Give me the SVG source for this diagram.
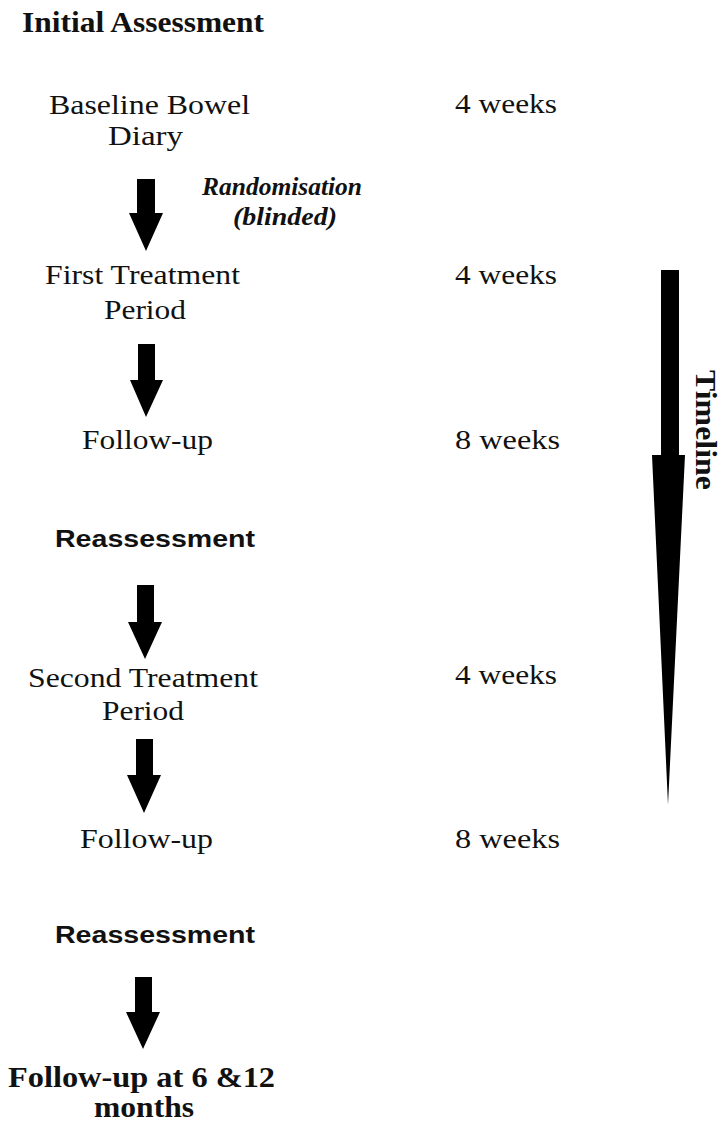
<svg xmlns="http://www.w3.org/2000/svg" width="723" height="1124" viewBox="0 0 723 1124">
<style>
.s{font-family:"Liberation Serif","Times New Roman",serif;font-size:28px;fill:#111}
.b{font-family:"Liberation Serif","Times New Roman",serif;font-size:29px;font-weight:bold;fill:#111}
.bi{font-family:"Liberation Serif","Times New Roman",serif;font-size:25px;font-weight:bold;font-style:italic;fill:#111}
.h{font-family:"Liberation Sans",Arial,sans-serif;font-size:23px;font-weight:bold;fill:#111}
.arr{fill:#000}
</style>
<rect width="723" height="1124" fill="#fff"/>
<g id="initial-assessment"><text class="b" x="22" y="32" textLength="242" lengthAdjust="spacingAndGlyphs">Initial Assessment</text></g>
<g id="baseline">
<text class="s" x="49" y="114" textLength="201" lengthAdjust="spacingAndGlyphs">Baseline Bowel</text>
<text class="s" x="108" y="145" textLength="75" lengthAdjust="spacingAndGlyphs">Diary</text>
</g>
<g id="dur1"><text class="s" x="455" y="113" textLength="102" lengthAdjust="spacingAndGlyphs">4 weeks</text></g>
<g id="randomisation">
<text class="bi" x="202" y="195" textLength="160" lengthAdjust="spacingAndGlyphs">Randomisation</text>
<text class="bi" x="233" y="225" textLength="104" lengthAdjust="spacingAndGlyphs">(blinded)</text>
</g>
<g id="first-treatment">
<text class="s" x="45" y="284" textLength="195" lengthAdjust="spacingAndGlyphs">First Treatment</text>
<text class="s" x="104" y="319" textLength="82" lengthAdjust="spacingAndGlyphs">Period</text>
</g>
<g id="dur2"><text class="s" x="455" y="284" textLength="102" lengthAdjust="spacingAndGlyphs">4 weeks</text></g>
<g id="followup1"><text class="s" x="82" y="449" textLength="131" lengthAdjust="spacingAndGlyphs">Follow-up</text></g>
<g id="dur3"><text class="s" x="455" y="449" textLength="105" lengthAdjust="spacingAndGlyphs">8 weeks</text></g>
<g id="reassessment1"><text class="h" x="55" y="547" textLength="200" lengthAdjust="spacingAndGlyphs">Reassessment</text></g>
<g id="second-treatment">
<text class="s" x="28" y="687" textLength="230" lengthAdjust="spacingAndGlyphs">Second Treatment</text>
<text class="s" x="102" y="720" textLength="82" lengthAdjust="spacingAndGlyphs">Period</text>
</g>
<g id="dur4"><text class="s" x="455" y="684" textLength="102" lengthAdjust="spacingAndGlyphs">4 weeks</text></g>
<g id="followup2"><text class="s" x="80" y="848" textLength="133" lengthAdjust="spacingAndGlyphs">Follow-up</text></g>
<g id="dur5"><text class="s" x="455" y="848" textLength="105" lengthAdjust="spacingAndGlyphs">8 weeks</text></g>
<g id="reassessment2"><text class="h" x="55" y="943" textLength="200" lengthAdjust="spacingAndGlyphs">Reassessment</text></g>
<g id="final-followup">
<text class="b" x="8" y="1087" textLength="267" lengthAdjust="spacingAndGlyphs">Follow-up at 6 &amp;12</text>
<text class="b" x="94" y="1117" textLength="100" lengthAdjust="spacingAndGlyphs">months</text>
</g>
<g id="timeline">
<polygon class="arr" points="661,270 679,270 679,455 685,455 668,805 652,455 661,455"/>
<text class="b" transform="translate(696,430) rotate(90)" text-anchor="middle" font-size="25" textLength="120" lengthAdjust="spacingAndGlyphs">Timeline</text>
</g>
<g id="connectors">
<polygon class="arr" points="137,179 155,179 155,213 163,213 146,251 129,213 137,213"/>
<polygon class="arr" points="138,344 155,344 155,380 163,380 146,417 130,380 138,380"/>
<polygon class="arr" points="137,585 154,585 154,622 162,622 145,659 128,622 137,622"/>
<polygon class="arr" points="136,739 153,739 153,775 161,775 144,813 127,775 136,775"/>
<polygon class="arr" points="135,977 152,977 152,1012 160,1012 143,1049 126,1012 135,1012"/>
</g>
</svg>
